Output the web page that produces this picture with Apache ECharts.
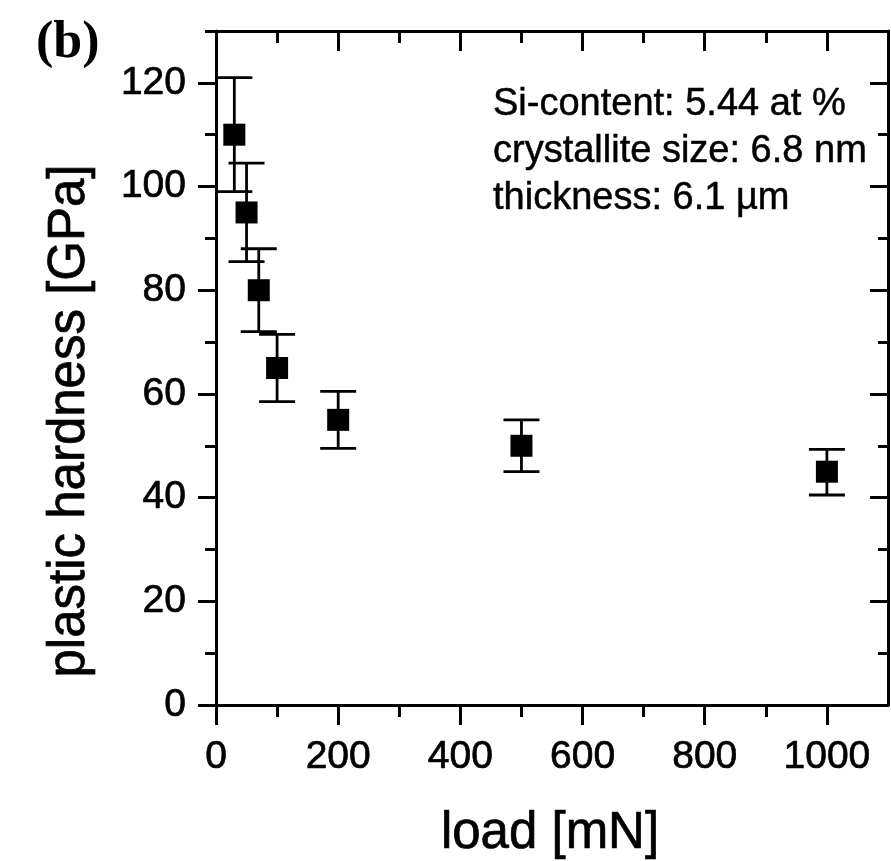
<!DOCTYPE html>
<html>
<head>
<meta charset="utf-8">
<script src="https://cdn.jsdelivr.net/npm/echarts@6/dist/echarts.min.js"></script>
<style>
html,body{margin:0;padding:0;background:#fff;}
#chart{width:891px;height:861px;}
</style>
</head>
<body>
<div id="chart"></div>
<script>
// ---- data ----
const loads = [30, 50, 70, 100, 200, 500, 1000];
const hardness = [110, 95, 80, 65, 55, 50, 45];
const errUpper = [121, 104.5, 88, 71.5, 60.5, 55, 49.3];
const errLower = [99, 85.5, 72, 58.5, 49.5, 45, 40.5];

const xMajorTicks = [0, 200, 400, 600, 800, 1000];
const xMinorTicks = [100, 300, 500, 700, 900];
const yMajorTicks = [0, 20, 40, 60, 80, 100, 120];
const yMinorTicks = [10, 30, 50, 70, 90, 110, 130];

const xTitle = 'load [mN]';
const yTitle = 'plastic hardness [GPa]';
const panelLabel = '(b)';
const infoLines = ['Si-content: 5.44 at %', 'crystallite size: 6.8 nm', 'thickness: 6.1 µm'];

// ---- chart ----
const FONT = '"Liberation Sans", Arial, sans-serif';
const chart = echarts.init(document.getElementById('chart'), null, {renderer: 'canvas'});

const X_MIN = 0, X_MAX = 1100, Y_MIN = 0, Y_MAX = 130;
const lineStyle = {color: '#000', width: 3};
const thick = {textBorderColor: '#000', textBorderWidth: 0.7};

function xAxisDef(position, ticks, len, inside, showLine, showLabels) {
  return {
    type: 'value', min: X_MIN, max: X_MAX, position: position,
    axisLine: {show: showLine, onZero: false, lineStyle: lineStyle},
    axisTick: {show: true, customValues: ticks, length: len, inside: inside, lineStyle: {color: '#000', width: 3}},
    axisLabel: showLabels ? Object.assign({show: true, customValues: ticks, color: '#000', fontFamily: FONT, fontSize: 39, margin: 33,
      formatter: function (v) { return String(v); }}, thick) : {show: false},
    splitLine: {show: false}, minorTick: {show: false}
  };
}
function yAxisDef(position, ticks, len, inside, showLine, showLabels) {
  return {
    type: 'value', min: Y_MIN, max: Y_MAX, position: position,
    axisLine: {show: showLine, onZero: false, lineStyle: lineStyle},
    axisTick: {show: true, customValues: ticks, length: len, inside: inside, lineStyle: {color: '#000', width: 3}},
    axisLabel: showLabels ? Object.assign({show: true, customValues: ticks, color: '#000', fontFamily: FONT, fontSize: 39, margin: 30,
      formatter: function (v) { return String(v); }}, thick) : {show: false},
    splitLine: {show: false}, minorTick: {show: false}
  };
}

const errData = loads.map((x, i) => [x, errLower[i], errUpper[i]]);
const pointData = loads.map((x, i) => [x, hardness[i]]);

const option = {
  backgroundColor: '#fff',
  animation: false,
  grid: {left: 216, right: 3, top: 31, bottom: 156, containLabel: false},
  xAxis: [
    xAxisDef('bottom', xMajorTicks, 20, false, true, true),
    xAxisDef('bottom', xMinorTicks, 12, false, false, false),
    xAxisDef('top', xMajorTicks, 20, true, true, false),
    xAxisDef('top', xMinorTicks, 12, true, false, false)
  ],
  yAxis: [
    yAxisDef('left', yMajorTicks, 18, false, true, true),
    yAxisDef('left', yMinorTicks, 11, false, false, false),
    yAxisDef('right', yMajorTicks, 18, true, true, false),
    yAxisDef('right', yMinorTicks, 10, true, false, false)
  ],
  series: [
    {
      type: 'custom', xAxisIndex: 0, yAxisIndex: 0, z: 2,
      data: errData,
      renderItem: function (params, api) {
        const x = api.value(0);
        const pLo = api.coord([x, api.value(1)]);
        const pHi = api.coord([x, api.value(2)]);
        const hw = 18;
        const st = {stroke: '#000', lineWidth: 2.8};
        return {
          type: 'group',
          children: [
            {type: 'line', shape: {x1: pLo[0], y1: pLo[1], x2: pHi[0], y2: pHi[1]}, style: st},
            {type: 'line', shape: {x1: pHi[0] - hw, y1: pHi[1], x2: pHi[0] + hw, y2: pHi[1]}, style: st},
            {type: 'line', shape: {x1: pLo[0] - hw, y1: pLo[1], x2: pLo[0] + hw, y2: pLo[1]}, style: st}
          ]
        };
      }
    },
    {
      type: 'scatter', xAxisIndex: 0, yAxisIndex: 0, z: 3,
      symbol: 'rect', symbolSize: 22,
      itemStyle: {color: '#000', opacity: 1},
      data: pointData
    }
  ],
  graphic: [
    {type: 'text', left: 36, top: 18, z: 10,
     style: {text: panelLabel, font: 'bold 52px "Liberation Serif", "Times New Roman", serif', fill: '#000'}},
    {type: 'text', x: 550, y: 834, z: 10,
     style: {text: xTitle, font: '51px ' + FONT, fill: '#000', stroke: '#000', lineWidth: 0.7, textAlign: 'center', textVerticalAlign: 'middle'}},
    {type: 'text', x: 70, y: 421, rotation: Math.PI / 2, z: 10,
     style: {text: yTitle, font: '51px ' + FONT, fill: '#000', stroke: '#000', lineWidth: 0.7, textAlign: 'center', textVerticalAlign: 'middle'}},
    {type: 'text', x: 493, y: 105, z: 10,
     style: {text: infoLines[0], font: '38px ' + FONT, fill: '#000', stroke: '#000', lineWidth: 0.5, textAlign: 'left', textVerticalAlign: 'middle'}},
    {type: 'text', x: 493, y: 152, z: 10,
     style: {text: infoLines[1], font: '38px ' + FONT, fill: '#000', stroke: '#000', lineWidth: 0.5, textAlign: 'left', textVerticalAlign: 'middle'}},
    {type: 'text', x: 493, y: 199, z: 10,
     style: {text: infoLines[2], font: '38px ' + FONT, fill: '#000', stroke: '#000', lineWidth: 0.5, textAlign: 'left', textVerticalAlign: 'middle'}}
  ]
};
chart.setOption(option);
</script>
</body>
</html>
